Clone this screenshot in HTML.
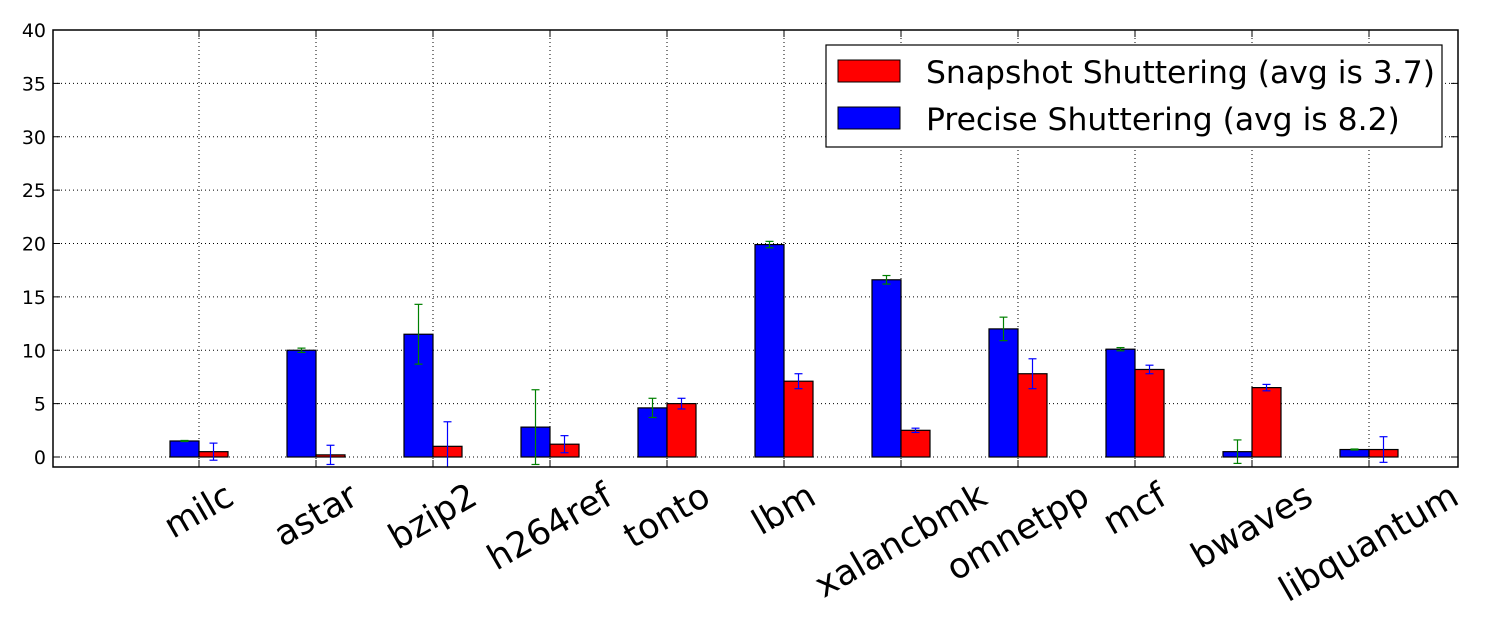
<!DOCTYPE html>
<html><head><meta charset="utf-8"><style>
body{margin:0;background:#fff;}
svg{display:block;font-family:"DejaVu Sans","Liberation Sans",sans-serif;}
</style></head><body>
<svg id="chart" width="1500" height="625" viewBox="0 0 1500 625">
<g id="grid"></g>
<g id="bars"></g>
<rect x="53" y="30" width="1405" height="437" fill="none" stroke="#000" stroke-width="1.5"/>
<g id="yticks"></g>
<g id="xlabels"></g>
<g>
<rect x="826" y="45" width="616" height="102" fill="#fff" stroke="#000" stroke-width="1.2"/>
<g>
<rect x="838" y="60" width="62" height="22" fill="#ff0000" stroke="#000"/>
<text x="926" y="83" font-size="31.4">Snapshot Shuttering (avg is 3.7)</text></g>
<g>
<rect x="838" y="107" width="62" height="22" fill="#0000ff" stroke="#000"/>
<text x="926" y="130" font-size="31.4">Precise Shuttering (avg is 8.2)</text></g>
</g>
</svg>
<script>
const categories=["milc","astar","bzip2","h264ref","tonto","lbm","xalancbmk","omnetpp","mcf","bwaves","libquantum"];
const preciseValues=[1.5,10.0,11.5,2.8,4.6,19.9,16.6,12.0,10.1,0.5,0.7];
const preciseErrors=[0.05,0.2,2.8,3.5,0.9,0.3,0.4,1.1,0.15,1.1,0.05];
const snapshotValues=[0.5,0.2,1.0,1.2,5.0,7.1,2.5,7.8,8.2,6.5,0.7];
const snapshotErrors=[0.8,0.9,2.3,0.8,0.5,0.7,0.2,1.4,0.4,0.3,1.2];
const yTicks=[0,5,10,15,20,25,30,35,40];
const NS="http://www.w3.org/2000/svg";
const y=v=>457-v*(427/40);
const x=i=>199+117*i;
const bw=29;
function mk(t,a,p){const e=document.createElementNS(NS,t);for(const k in a)e.setAttribute(k,a[k]);p.appendChild(e);return e;}
const grid=document.getElementById('grid'),bars=document.getElementById('bars'),yt=document.getElementById('yticks'),xl=document.getElementById('xlabels');
yTicks.forEach(v=>{
 const l=mk('line',{x1:53,x2:1458,y1:y(v),y2:y(v),stroke:'#000','stroke-dasharray':'1,3','stroke-width':1},grid);
 
 
 const t=mk('text',{x:46,y:y(v)+7,'text-anchor':'end','font-size':19},yt);t.textContent=v;
 
 
 mk('line',{x1:53,x2:60,y1:y(v),y2:y(v),stroke:'#000'},yt);
 mk('line',{x1:1451,x2:1458,y1:y(v),y2:y(v),stroke:'#000'},yt);
});
categories.forEach((c,i)=>{
 const l=mk('line',{x1:x(i),x2:x(i),y1:30,y2:467,stroke:'#000','stroke-dasharray':'1,3','stroke-width':1},grid);
 
 
 mk('line',{x1:x(i),x2:x(i),y1:467,y2:460,stroke:'#000'},xl);
 mk('line',{x1:x(i),x2:x(i),y1:30,y2:37,stroke:'#000'},xl);
 const pairs=[[preciseValues[i],preciseErrors[i],x(i)-bw,'#0000ff','#008000','bar-precise-'+c],[snapshotValues[i],snapshotErrors[i],x(i),'#ff0000','#0000ff','bar-snapshot-'+c]];
 pairs.forEach(([v,e,bx,fill,ec,nm])=>{
  const r=mk('rect',{x:bx,y:y(v),width:bw,height:y(0)-y(v),fill:fill,stroke:'#000','stroke-width':1.2},bars);
  
  
  const cx=bx+bw/2, hi=y(v+e), yb=Math.min(y(v-e),467);
  const eb=mk('g',{stroke:ec,'stroke-width':1.2},bars);
  
  
  mk('line',{x1:cx,x2:cx,y1:hi,y2:yb},eb);
  mk('line',{x1:cx-4,x2:cx+4,y1:hi,y2:hi},eb);
  if(y(v-e)<=467)mk('line',{x1:cx-4,x2:cx+4,y1:y(v-e),y2:y(v-e)},eb);
 });
 const t=mk('text',{'text-anchor':'middle','dominant-baseline':'central','font-size':35},xl);
 t.textContent=c;
 
 
 const L=t.getComputedTextLength();
 const cy=478+(L*0.5+35*0.87)/2;
 t.setAttribute('x',x(i));t.setAttribute('y',cy);
 t.setAttribute('transform',`rotate(-30 ${x(i)} ${cy})`);
});
</script>
</body></html>
